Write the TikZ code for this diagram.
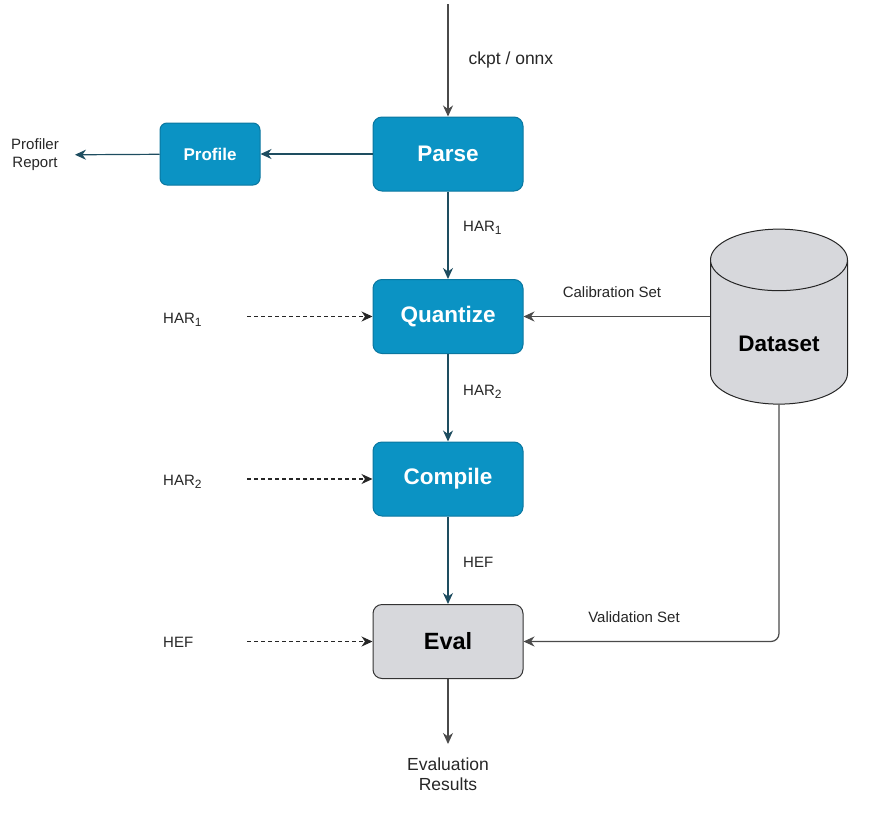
\documentclass[tikz,border=0pt]{standalone}
\usepackage{fontspec}
\setmainfont{Liberation Sans}
\usepackage{xcolor}
\usetikzlibrary{arrows.meta,positioning,shapes.geometric}

\definecolor{stageblue}{HTML}{0B93C4}
\definecolor{stageedge}{HTML}{0A77A0}
\definecolor{evalgray}{HTML}{D7D8DC}
\definecolor{linkteal}{HTML}{1E4D60}
\definecolor{linkgray}{HTML}{4A4A4A}

\newcommand{\lowidx}[1]{\raisebox{-0.4ex}{\fontsize{12}{12}\selectfont #1}}

\begin{document}
\begin{tikzpicture}[
    x=1pt, y=-1pt,
    node distance=87.5pt,
    font=\fontsize{15}{18}\selectfont,
    stage/.style={rectangle, draw=stageedge, fill=stageblue, rounded corners=9pt, align=center, text=white, font=\bfseries\fontsize{22.5}{26}\selectfont, minimum width=150pt, minimum height=74pt, line width=1pt},
    small/.style={stage, font=\bfseries\fontsize{17}{20}\selectfont, minimum width=100pt, minimum height=62pt, rounded corners=7pt},
    evalbox/.style={stage, draw=black!80, fill=evalgray, text=black, font=\bfseries\fontsize{23.5}{27}\selectfont},
    store/.style={cylinder, shape border rotate=90, aspect=0.7, draw=black!85, fill=evalgray, font=\bfseries\fontsize{22.5}{26}\selectfont, minimum width=137pt, minimum height=175pt, line width=1pt},
    lbl/.style={inner sep=2pt, text=black!85},
    arrow/.style={-{Stealth[length=11pt,width=10pt,inset=3.5pt]}, draw=linkteal, line width=1.2pt},
    garrow/.style={arrow, draw=linkgray},
    dasharrow/.style={arrow, draw=black!85, line width=1.1pt, dash pattern=on 4pt off 3pt}
]
    \useasboundingbox (0,0) rectangle (870,819);

    % Main pipeline
    \node[stage] (parse) at (448,154) {Parse};
    \node[stage, below=of parse] (quant) {Quantize};
    \node[stage, below=of quant] (compile) {Compile};
    \node[evalbox, below=of compile] (eval) {Eval};

    % Side nodes
    \node[small, left=112pt of parse] (profile) {Profile};
    \node[lbl, align=center] (report) at (35,155) {Profiler\\Report};
    \node[store] (dataset) at (779,337) {\raisebox{-7pt}[\height][\depth]{Dataset}};
    \node[lbl, align=center, font=\fontsize{17.5}{20}\selectfont, below=77pt of eval] (results) {Evaluation\\Results};
    \coordinate (src) at (448,4);

    % Connections
    \draw[garrow] (src) -- (parse) node[lbl, pos=0.5, right=18pt, font=\fontsize{17.5}{20}\selectfont] (fmt) {ckpt / onnx};
    \draw[arrow] (parse) -- (profile);
    \draw[arrow, shorten >=14pt] (profile) -- (report);
    \draw[arrow] (parse) -- (quant);
    \draw[arrow] (quant) -- (compile);
    \draw[arrow] (compile) -- (eval);
    \draw[garrow, shorten >=12pt] (eval) -- (results);

    % Labels on the flow
    \node[lbl, anchor=west] (har1) at (461,228) {HAR\lowidx{1}};
    \node[lbl, anchor=west] (har2) at (461,392) {HAR\lowidx{2}};
    \node[lbl, anchor=west] (hef) at (461,562) {HEF};

    % Dataset feeds
    \draw[garrow] (dataset.west |- quant.east) -- (quant.east);
    \draw[garrow, rounded corners=8pt] (dataset.south) |- (eval.east);
    \node[lbl] (calib) at (612,292) {Calibration Set};
    \node[lbl] (valid) at (634,617) {Validation Set};

    % Optional entry points
    \node[lbl, anchor=west] (inhar1) at (161,320) {HAR\lowidx{1}};
    \node[lbl, anchor=west] (inhar2) at (161,482) {HAR\lowidx{2}};
    \node[lbl, anchor=west] (inhef) at (161,642) {HEF};
    \draw[dasharrow] (quant.west -| inhar1.west) ++(86,0) -- (quant.west);
    \draw[dasharrow] (compile.west -| inhar2.west) ++(86,0) -- (compile.west);
    \draw[dasharrow] (eval.west -| inhef.west) ++(86,0) -- (eval.west);
\end{tikzpicture}
\end{document}
